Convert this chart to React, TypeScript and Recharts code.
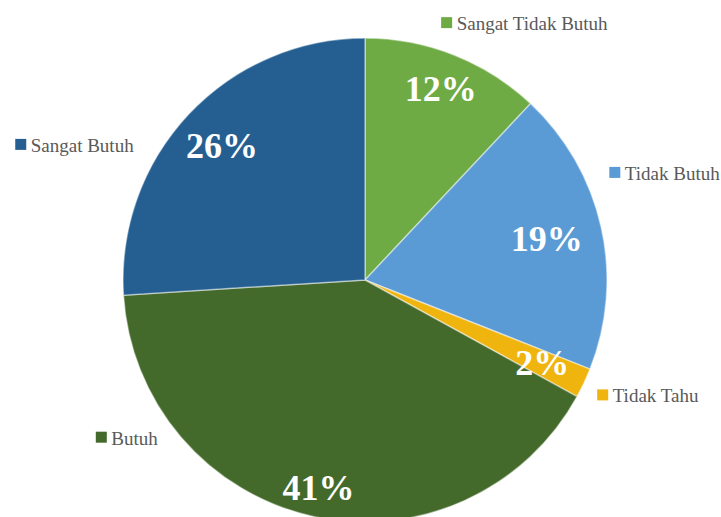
import { PieChart, Pie, Cell } from 'recharts';

const categories = ['Sangat Tidak Butuh', 'Tidak Butuh', 'Tidak Tahu', 'Butuh', 'Sangat Butuh'];
const percentages = [12, 19, 2, 41, 26];

const COLORS = ['#6FAB45', '#5B9BD5', '#F0B40E', '#446A2B', '#255F91'];

// where the percent labels sit inside each slice (fraction of radius)
const PCT_RADIUS = [0.85, 0.77, 0.81, 0.88, 0.81];
// category name tags around the pie: angle clockwise from top, distance from centre
const NAME_POS = [
    { angle: 17.6, r: 270 },
    { angle: 66.7, r: 272 },
    { angle: 115.8, r: 264 },
    { angle: 239.2, r: 307 },
    { angle: 291.5, r: 370 },
];

const FONT = '"Liberation Serif", "Times New Roman", serif';
const RAD = Math.PI / 180;

const chartData = categories.map((name, i) => ({ name, value: percentages[i] }));

const renderLabel = (props: any) => {
    const { cx, cy, midAngle, outerRadius, index, value } = props;
    const r = outerRadius * PCT_RADIUS[index];
    const px = cx + r * Math.cos(-midAngle * RAD);
    const py = cy + r * Math.sin(-midAngle * RAD);
    const pos = NAME_POS[index];
    const nx = cx + pos.r * Math.sin(pos.angle * RAD);
    const ny = cy - pos.r * Math.cos(pos.angle * RAD);
    return (
        <g>
            <text
                x={px}
                y={py}
                fill="#ffffff"
                textAnchor="middle"
                dominantBaseline="central"
                fontFamily={FONT}
                fontWeight="bold"
                fontSize={36}
            >
                {`${value}%`}
            </text>
            <rect x={nx - 5.5} y={ny - 5.5} width={11} height={11} fill={COLORS[index]} />
            <text
                x={nx + 10}
                y={ny + 1}
                fill="#595959"
                dominantBaseline="central"
                fontFamily={FONT}
                fontSize={19}
            >
                {categories[index]}
            </text>
        </g>
    );
};

export default function App() {
    return (
        <div style={{ position: 'absolute', left: 0, top: 0, width: 721, height: 517, background: '#fff' }}>
            <PieChart width={721} height={517} margin={{ top: 0, right: 0, bottom: 0, left: 0 }}>
                <Pie
                    data={chartData}
                    dataKey="value"
                    nameKey="name"
                    cx={365}
                    cy={280}
                    outerRadius={242}
                    startAngle={90}
                    endAngle={-270}
                    labelLine={false}
                    label={renderLabel}
                    stroke="rgba(255,255,255,0.45)"
                    strokeWidth={1.5}
                    isAnimationActive={false}
                >
                    {chartData.map((entry, index) => (
                        <Cell key={`cell-${index}`} fill={COLORS[index]} />
                    ))}
                </Pie>
            </PieChart>
        </div>
    );
}
